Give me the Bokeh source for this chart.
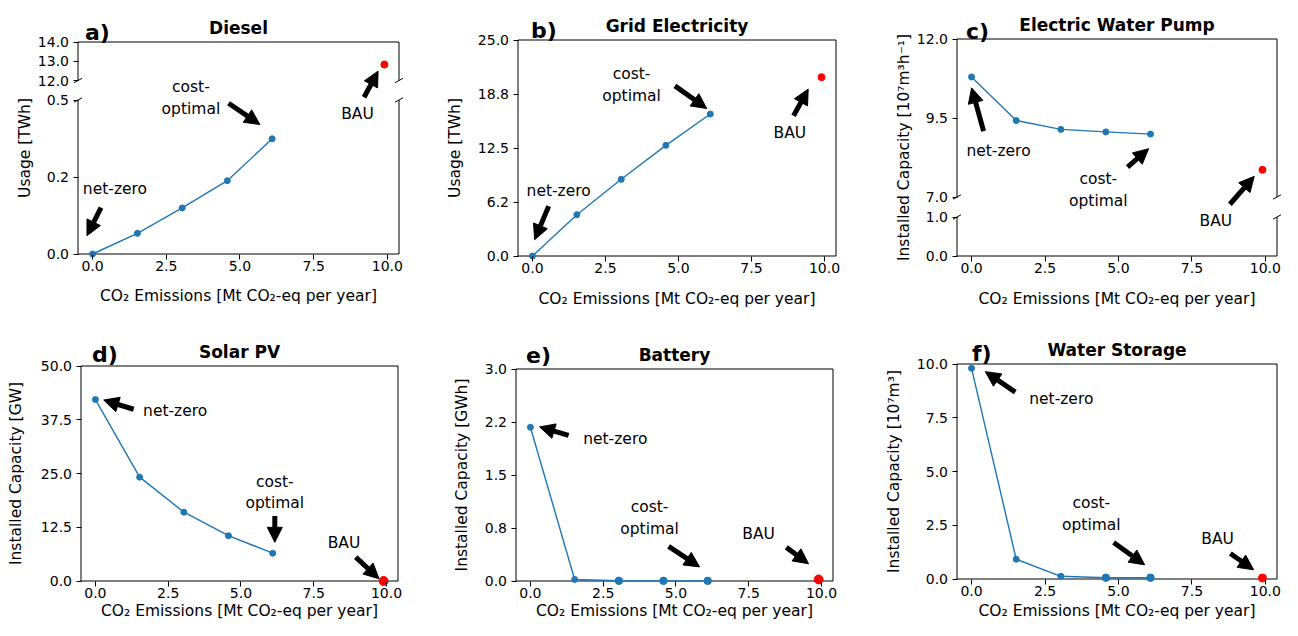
import math
from bokeh.plotting import figure
from bokeh.layouts import row, column
from bokeh.models import Range1d, LinearAxis, FixedTicker, Label, Arrow, NormalHead
from bokeh.embed import file_html
from bokeh.resources import INLINE

FONT = "DejaVu Sans"
BLUE = "#1f77b4"
RED = "#ff0000"

# ---------------- data ----------------
emissions = [0.0, 1.52, 3.04, 4.57, 6.09]
bau_emission = 9.9
x_ticks = [0.0, 2.5, 5.0, 7.5, 10.0]
x_tick_labels = ["0.0", "2.5", "5.0", "7.5", "10.0"]
x_limits = (-0.495, 10.395)
x_title = "CO\u2082 Emissions [Mt CO\u2082-eq per year]"

diesel_usage = [0.0, 0.067, 0.1495, 0.238, 0.374]
diesel_bau = 12.83
diesel_ticks_low = [0.0, 0.25, 0.5]
diesel_labels_low = ["0.0", "0.2", "0.5"]
diesel_ticks_up = [12.0, 13.0, 14.0]
diesel_labels_up = ["12.0", "13.0", "14.0"]

grid_usage = [0.0, 4.78, 8.88, 12.81, 16.43]
grid_bau = 20.70
grid_ticks = [0.0, 6.25, 12.5, 18.75, 25.0]
grid_labels = ["0.0", "6.2", "12.5", "18.8", "25.0"]

pump_capacity = [10.80, 9.42, 9.14, 9.06, 8.99]
pump_bau = 7.86
pump_ticks_low = [0.0, 1.0]
pump_labels_low = ["0.0", "1.0"]
pump_ticks_up = [7.0, 9.5, 12.0]
pump_labels_up = ["7.0", "9.5", "12.0"]

solar_capacity = [42.2, 24.15, 16.0, 10.53, 6.46]
solar_bau = 0.0
solar_ticks = [0.0, 12.5, 25.0, 37.5, 50.0]
solar_labels = ["0.0", "12.5", "25.0", "37.5", "50.0"]

battery_capacity = [2.175, 0.022, 0.003, 0.002, 0.002]
battery_bau = 0.022
battery_ticks = [0.0, 0.75, 1.5, 2.25, 3.0]
battery_labels = ["0.0", "0.8", "1.5", "2.2", "3.0"]

storage_capacity = [9.80, 0.92, 0.125, 0.06, 0.06]
storage_bau = 0.046
storage_ticks = [0.0, 2.5, 5.0, 7.5, 10.0]
storage_labels = ["0.0", "2.5", "5.0", "7.5", "10.0"]

# ---------------- annotations (text, x, y, range) / arrows (x0, y0, x1, y1, range) ----------------
CO = "cost-\noptimal"
diesel_texts = [("net-zero", 0.759, 0.212, "main"), (CO, 3.335, 0.5065, "main"), ("BAU", 8.986, 0.456, "main")]
diesel_arrows = [(0.285, 0.1505, -0.19, 0.0595, "main"), (4.613, 0.4896, 5.675, 0.4204, "main"),
                 (9.21, 11.128, 9.685, 12.486, "up")]
grid_texts = [("net-zero", 0.898, 7.58, "main"), (CO, 3.393, 19.81, "main"), ("BAU", 8.815, 14.19, "main")]
grid_arrows = [(0.555, 5.77, 0.075, 1.89, "main"), (4.879, 19.69, 5.967, 17.07, "main"),
               (8.942, 16.23, 9.443, 19.31, "main")]
pump_texts = [("net-zero", 0.918, 8.443, "up"), (CO, 4.314, 7.227, "up"), ("BAU", 8.314, 6.233, "up")]
pump_arrows = [(0.41, 9.083, 0.0025, 10.453, "up"), (5.309, 7.947, 6.026, 8.528, "up"),
               (8.792, 6.77, 9.62, 7.653, "up")]
solar_texts = [("net-zero", 2.741, 39.61, "main"), (CO, 6.163, 20.54, "main"), ("BAU", 8.541, 8.84, "main")]
solar_arrows = [(1.313, 39.94, 0.284, 42.08, "main"), (6.163, 15.14, 6.163, 9.0, "main"),
                (8.942, 5.54, 9.742, 0.53, "main")]
battery_texts = [("net-zero", 2.916, 2.004, "main"), (CO, 4.094, 0.89, "main"), ("BAU", 7.839, 0.671, "main")]
battery_arrows = [(1.312, 2.06, 0.316, 2.181, "main"), (4.747, 0.49, 5.812, 0.199, "main"),
                  (8.79, 0.476, 9.556, 0.244, "main")]
storage_texts = [("net-zero", 3.055, 8.353, "main"), (CO, 4.076, 3.013, "main"), ("BAU", 8.375, 1.878, "main")]
storage_arrows = [(1.489, 8.69, 0.468, 9.645, "main"), (4.835, 1.694, 5.89, 0.66, "main"),
                  (8.807, 1.186, 9.6, 0.429, "main")]

# layout: canvas width and origin on the page, visible frame box on the page (left, right, top, bottom),
# label offsets in px from the frame
panels = [
    dict(letter="a)", title="Diesel", ylabel="Usage [TWh]", values=diesel_usage, bau=diesel_bau,
         lower=(0.0, 0.5, diesel_ticks_low, diesel_labels_low),
         upper=(12.0, 14.0, diesel_ticks_up, diesel_labels_up),
         line_rng="main", bau_rng="up", texts=diesel_texts, arrows=diesel_arrows,
         L=dict(w=435, origin=(0, 0), frame=(77.5, 398.5, 41.5, 253.5), lower_px=154.0, upper_px=38.5,
                ylab_dx=53.0, xlab_dy=41.7, letter=(7, 10), bau_size=7, big_from=None)),
    dict(letter="b)", title="Grid Electricity", ylabel="Usage [TWh]", values=grid_usage, bau=grid_bau,
         ylim=(0.0, 25.0, grid_ticks, grid_labels),
         line_rng="main", bau_rng="main", texts=grid_texts, arrows=grid_arrows,
         L=dict(w=445, origin=(435, 0), frame=(517.5, 835.5, 39.5, 255.5),
                ylab_dx=63.5, xlab_dy=43.3, letter=(13, 9.7), bau_size=7, big_from=None)),
    dict(letter="c)", title="Electric Water Pump", ylabel="Installed Capacity [10\u2077m\u00b3h\u207b\u00b9]",
         values=pump_capacity, bau=pump_bau,
         lower=(0.0, 1.0, pump_ticks_low, pump_labels_low),
         upper=(7.0, 12.0, pump_ticks_up, pump_labels_up),
         line_rng="up", bau_rng="up", texts=pump_texts, arrows=pump_arrows,
         L=dict(w=402, origin=(880, 0), frame=(956.5, 1276.5, 38.5, 255.5), lower_px=39.0, upper_px=158.0,
                ylab_dx=53.5, xlab_dy=43.0, letter=(9, 7.5), bau_size=7, big_from=None)),
    dict(letter="d)", title="Solar PV", ylabel="Installed Capacity [GW]", values=solar_capacity, bau=solar_bau,
         ylim=(0.0, 50.0, solar_ticks, solar_labels),
         line_rng="main", bau_rng="main", texts=solar_texts, arrows=solar_arrows,
         L=dict(w=440, origin=(0, 310), frame=(80.5, 397.5, 365.5, 580.5),
                ylab_dx=65.0, xlab_dy=30.0, letter=(11, 11.4), bau_size=9, big_from=None)),
    dict(letter="e)", title="Battery", ylabel="Installed Capacity [GWh]", values=battery_capacity, bau=battery_bau,
         ylim=(0.0, 3.0, battery_ticks, battery_labels),
         line_rng="main", bau_rng="main", texts=battery_texts, arrows=battery_arrows,
         L=dict(w=435, origin=(440, 310), frame=(515.5, 832.5, 368.5, 580.5),
                ylab_dx=54.0, xlab_dy=30.0, letter=(10, 14), bau_size=9, big_from=2)),
    dict(letter="f)", title="Water Storage", ylabel="Installed Capacity [10\u2077m\u00b3]",
         values=storage_capacity, bau=storage_bau,
         ylim=(0.0, 10.0, storage_ticks, storage_labels),
         line_rng="main", bau_rng="main", texts=storage_texts, arrows=storage_arrows,
         L=dict(w=407, origin=(875, 310), frame=(956.5, 1276.5, 363.5, 578.5),
                ylab_dx=63.5, xlab_dy=32.0, letter=(15, 11), bau_size=8, big_from=3)),
]
ROW_H = 310


def style_axis(ax):
    ax.major_label_text_font = FONT
    ax.major_label_text_font_size = "14px"
    ax.major_label_text_color = "black"
    ax.major_tick_out = 5
    ax.major_tick_in = 0
    ax.minor_tick_out = 0
    ax.minor_tick_in = 0
    ax.major_tick_line_color = "black"
    ax.major_tick_line_width = 1
    ax.axis_line_color = None


def rng_kw(r):
    return {"y_range_name": "up"} if r == "up" else {}


def label(p, x, y, text, size, style="normal", align="center", baseline="middle", angle=0.0, r="main"):
    p.add_layout(Label(x=x, y=y, text=text, text_font=FONT, text_font_size=size, text_font_style=style,
                       text_color="black", text_align=align, text_baseline=baseline, angle=angle,
                       text_line_height=1.2, **rng_kw(r)))


def build(spec):
    L = spec["L"]
    w, H = L["w"], ROW_H
    ox, oy = L["origin"]
    fl, fr, ft, fb = L["frame"]
    fl, fr, ft, fb = fl - ox, fr - ox, ft - oy, fb - oy      # frame box in canvas px
    xs = (x_limits[1] - x_limits[0]) / (fr - fl)
    xr = Range1d(x_limits[0] - fl * xs, x_limits[1] + (w - fr) * xs)
    broken = "upper" in spec
    if broken:
        lo0, lo1, lo_t, lo_l = spec["lower"]
        up0, up1, up_t, up_l = spec["upper"]
        ys = (lo1 - lo0) / L["lower_px"]
        yr = Range1d(lo0 - (H - fb) * ys, lo0 + fb * ys)
        ysu = (up1 - up0) / L["upper_px"]
        upr = Range1d(up1 - (H - ft) * ysu, up1 + ft * ysu)
        y_bot, y_top = lo0, lo0 + (fb - ft) * ys
    else:
        y0, y1, yt, yl = spec["ylim"]
        ys = (y1 - y0) / (fb - ft)
        yr = Range1d(y0 - (H - fb) * ys, y1 + ft * ys)
        y_bot, y_top = y0, y1

    p = figure(width=w, height=H, x_range=xr, y_range=yr,
               x_axis_location=None, y_axis_location=None,
               output_backend="svg", toolbar_location=None,
               min_border_left=0, min_border_right=0, min_border_top=0, min_border_bottom=0,
               background_fill_color="white", border_fill_color="white")
    p.grid.visible = False
    p.outline_line_color = None
    p.title.visible = False

    x0, x1 = x_limits
    if broken:
        p.extra_y_ranges = {"up": upr}

        def to_main(v):
            return round(yr.start + (v - upr.start) * (yr.end - yr.start) / (upr.end - upr.start), 9)

        yt = list(lo_t) + [to_main(v) for v in up_t]
        yl = list(lo_l) + list(up_l)
        u0 = to_main(up0)
        sx0 = [x0, x1, x0, x0, x1, x0]
        sx1 = [x0, x1, x1, x0, x1, x1]
        sy0 = [lo0, lo0, lo0, u0, u0, y_top]
        sy1 = [lo1, lo1, lo0, y_top, y_top, y_top]
        p.segment(x0=sx0, y0=sy0, x1=sx1, y1=sy1, line_color="black", line_width=1)
        dx, dy = 4 * xs, 2.2 * ys
        bx, by = [], []
        for xe in (x0, x1):
            for ye in (lo1, u0):
                bx.append((xe - dx, xe + dx))
                by.append((ye - dy, ye + dy))
        p.segment(x0=[b[0] for b in bx], y0=[b[0] for b in by], x1=[b[1] for b in bx], y1=[b[1] for b in by],
                  line_color="black", line_width=1)
    else:
        p.quad(left=[x0], right=[x1], bottom=[y_bot], top=[y_top], fill_color=None,
               line_color="black", line_width=1)

    yax = LinearAxis(ticker=FixedTicker(ticks=yt), major_label_overrides=dict(zip(yt, yl)),
                     fixed_location=x0)
    style_axis(yax)
    yax.major_label_standoff = 4
    p.add_layout(yax, "left")

    xax = LinearAxis(ticker=FixedTicker(ticks=x_ticks), major_label_overrides=dict(zip(x_ticks, x_tick_labels)),
                     fixed_location=y_bot)
    style_axis(xax)
    xax.major_label_standoff = 2
    p.add_layout(xax, "below")

    vals = spec["values"]
    p.line(emissions, vals, line_color=BLUE, line_width=1.4, **rng_kw(spec["line_rng"]))
    p.scatter(emissions, vals, size=6, color=BLUE, **rng_kw(spec["line_rng"]))
    k = L["big_from"]
    if k is not None:
        p.scatter(emissions[k:], vals[k:], size=7.5, color=BLUE, **rng_kw(spec["line_rng"]))
    p.scatter([bau_emission], [spec["bau"]], size=L["bau_size"], color=RED, **rng_kw(spec["bau_rng"]))

    for (txt, x, y, r) in spec["texts"]:
        label(p, x, y, txt, "15.5px", r=r)
    for (ax0, ay0, ax1, ay1, r) in spec["arrows"]:
        p.add_layout(Arrow(end=NormalHead(size=15, fill_color="black", line_color="black", line_width=1),
                           x_start=ax0, y_start=ay0, x_end=ax1, y_end=ay1,
                           line_color="black", line_width=5, **rng_kw(r)))

    xmid = (x0 + x1) / 2
    # panel title and letter
    label(p, xmid, y_top + 14.3 * ys, spec["title"], "17px", style="bold", baseline="alphabetic")
    lx, ly = L["letter"]
    label(p, x0 + lx * xs, y_top + ly * ys, spec["letter"], "22px", style="bold", align="left",
          baseline="alphabetic")
    # axis titles
    label(p, xmid, y_bot - L["xlab_dy"] * ys, x_title, "15.5px")
    label(p, x0 - L["ylab_dx"] * xs, (y_bot + y_top) / 2, spec["ylabel"], "15.5px", angle=math.pi / 2)
    return p


figs = [build(s) for s in panels]
layout = column(row(figs[0], figs[1], figs[2]), row(figs[3], figs[4], figs[5]))

open("out.html", "w").write(file_html(layout, INLINE))
